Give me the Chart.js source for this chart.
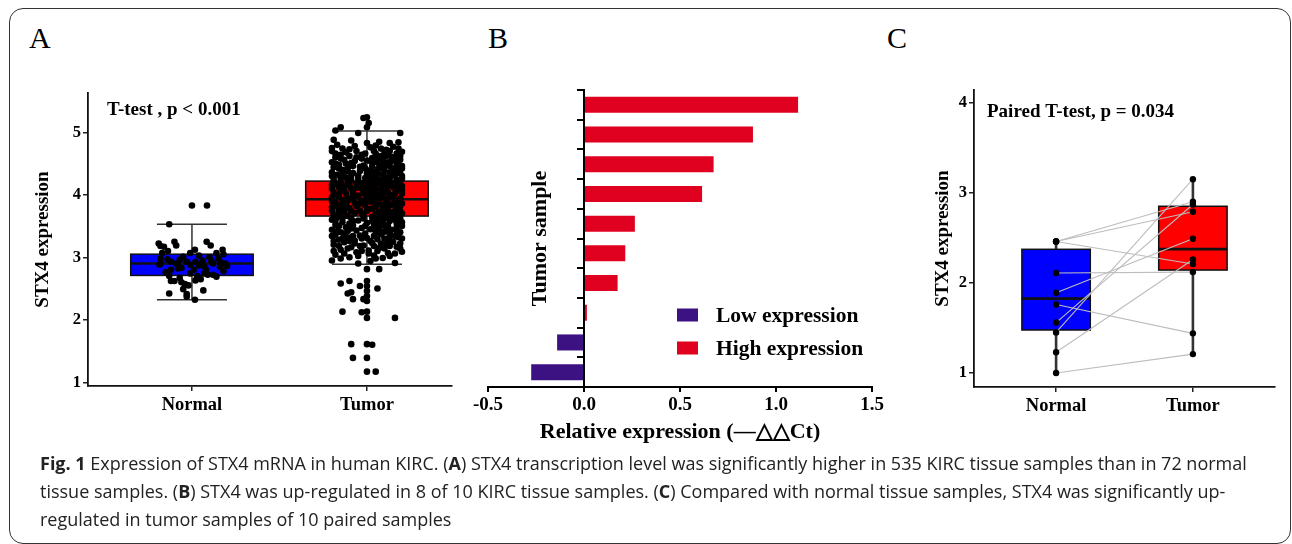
<!DOCTYPE html>
<html>
<head>
<meta charset="utf-8">
<script src="https://cdn.jsdelivr.net/npm/chart.js@4.4.1/dist/chart.umd.min.js"></script>
<style>
  body { margin: 0; width: 1292px; height: 544px; overflow: hidden; position: relative; background: #fff; }
  .frame { position: absolute; left: 9px; top: 8px; width: 1282px; height: 536px; border: 1.5px solid #333; border-radius: 14px; box-sizing: border-box; }
  .panel-label { position: absolute; font-family: 'Liberation Serif', 'Times New Roman', serif; font-size: 30px; line-height: 30px; color: #000; }
  canvas { position: absolute; }
  #caption { position: absolute; left: 40px; top: 449px; font-family: 'Open Sans', sans-serif; font-size: 18px; line-height: 28px; color: #222; white-space: nowrap; }
</style>
</head>
<body>
<div class="frame"></div>
<div class="panel-label" style="left:29px;top:23px">A</div>
<div class="panel-label" style="left:488px;top:23px">B</div>
<div class="panel-label" style="left:887px;top:23px">C</div>

<canvas id="chart-a" width="430" height="370" style="left:30px;top:60px"></canvas>
<canvas id="chart-b" width="420" height="390" style="left:470px;top:60px"></canvas>
<canvas id="chart-c" width="360" height="370" style="left:925px;top:60px"></canvas>

<div id="caption"><b>Fig. 1</b> Expression of STX4 mRNA in human KIRC. (<b>A</b>) STX4 transcription level was significantly higher in 535 KIRC tissue samples than in 72 normal<br>tissue samples. (<b>B</b>) STX4 was up-regulated in 8 of 10 KIRC tissue samples. (<b>C</b>) Compared with normal tissue samples, STX4 was significantly up-<br>regulated in tumor samples of 10 paired samples</div>

<script>
// Fig.1 STX4 expression - A: TCGA boxplot, B: qPCR per sample, C: paired boxplot

// ---- A : TCGA ----
const aCategories = ['Normal', 'Tumor'];
const aYTicks = [1, 2, 3, 4, 5];
const aQ1 = [2.71, 3.66];
const aMedian = [2.90, 3.93];
const aQ3 = [3.05, 4.22];
const aWhiskerLow = [2.32, 2.89];
const aWhiskerHigh = [3.53, 5.02];

// [jitter offset, value]
const normalPoints = [
  [-0.13, 3.53], [0.00, 3.83], [0.086, 3.83],
  [-0.19, 3.22], [-0.18, 3.18], [-0.16, 3.17], [-0.10, 3.25], [-0.09, 3.19], [-0.137, 3.10], [-0.17, 3.07],
  [0.084, 3.25], [0.107, 3.19], [0.017, 3.12], [-0.01, 3.07], [0.14, 3.07], [0.175, 3.12], [0.18, 3.05],
  [-0.18, 2.98], [-0.18, 2.91], [-0.185, 2.88], [-0.14, 2.97], [-0.12, 2.93], [-0.07, 2.96], [-0.03, 2.93], [-0.01, 2.88],
  [0.02, 2.93], [0.04, 2.87], [0.07, 2.86], [0.08, 2.80], [0.11, 2.94], [0.12, 2.90], [0.15, 2.98], [0.16, 2.93],
  [0.19, 2.90], [0.20, 2.86], [0.16, 2.85], [-0.12, 2.80], [-0.08, 2.82], [-0.13, 2.70], [-0.12, 2.62], [-0.10, 2.62],
  [-0.07, 2.67], [-0.06, 2.60], [-0.04, 2.57], [-0.05, 2.49], [-0.03, 2.41], [-0.03, 2.37], [0.02, 2.63], [0.05, 2.65],
  [0.017, 2.32], [0.065, 2.47], [-0.13, 2.42], [0.12, 2.72], [0.14, 2.69], [0.07, 2.74], [0.09, 2.72], [-0.01, 2.74],
  [0.01, 2.80], [-0.08, 2.87], [-0.06, 2.83], [0.04, 3.03], [-0.05, 3.01], [0.10, 3.00], [-0.15, 2.76], [0.18, 2.78],
  [0.06, 2.95], [-0.09, 2.90], [0.03, 2.70], [-0.02, 2.55]
];

const tumorPoints = [
  // above the upper whisker / top of cloud
  [0.00, 5.24], [-0.02, 5.23], [0.01, 5.15], [0.00, 5.08], [-0.15, 5.08], [-0.18, 5.03], [-0.05, 4.99], [0.19, 4.99],
  [0.07, 4.85], [0.13, 4.83], [0.18, 4.84], [-0.19, 4.88], [-0.09, 4.87], [0.00, 4.83], [-0.20, 4.75], [0.11, 4.72],
  [0.04, 4.70], [-0.12, 4.68], [0.17, 4.66], [-0.03, 4.64], [0.08, 4.62],
  [-0.17, 4.80], [-0.07, 4.78], [0.05, 4.79], [0.15, 4.77], [-0.20, 4.70], [-0.10, 4.73], [0.10, 4.66], [-0.15, 4.64],
  [0.20, 4.69], [0.02, 4.76],
  [-0.14, 4.74], [0.08, 4.74], [0.18, 4.74], [-0.06, 4.70], [0.13, 4.70], [-0.18, 4.66], [-0.01, 4.66], [0.05, 4.66],
  [-0.10, 4.62], [0.11, 4.62], [0.19, 4.62],
  // dense part
  [-0.18, 4.60], [-0.06, 4.60], [0.03, 4.59], [0.14, 4.61],
  [-0.15, 4.58], [-0.03, 4.58], [0.06, 4.58], [0.16, 4.58],
  [-0.13, 4.56], [0.00, 4.55], [0.09, 4.57], [0.19, 4.56],
  [-0.07, 4.54], [0.02, 4.54], [0.14, 4.54],
  [-0.20, 4.52], [-0.09, 4.51], [0.05, 4.53], [0.12, 4.52], [0.17, 4.50],
  [-0.18, 4.50], [-0.12, 4.50], [0.10, 4.50],
  [-0.16, 4.48], [-0.02, 4.47], [0.07, 4.49], [0.20, 4.46],
  [-0.08, 4.46], [0.03, 4.46], [0.13, 4.46], [0.17, 4.46],
  [-0.19, 4.44], [-0.11, 4.43], [-0.04, 4.45], [0.10, 4.44], [0.15, 4.42],
  [-0.16, 4.42], [-0.01, 4.42], [0.07, 4.42], [0.20, 4.42],
  [-0.14, 4.40], [0.01, 4.39], [0.06, 4.41], [0.18, 4.40],
  [-0.11, 4.38], [-0.04, 4.38], [0.10, 4.38], [0.16, 4.38],
  [-0.20, 4.36], [-0.08, 4.35], [0.03, 4.37], [0.13, 4.36],
  [-0.14, 4.34], [0.00, 4.34], [0.06, 4.34], [0.19, 4.34],
  [-0.17, 4.32], [-0.05, 4.31], [0.09, 4.33], [0.16, 4.32], [0.20, 4.30],
  [-0.20, 4.30], [-0.09, 4.30], [0.02, 4.30], [0.14, 4.30],
  [-0.12, 4.28], [-0.01, 4.27], [0.04, 4.29], [0.11, 4.28],
  [-0.15, 4.26], [-0.05, 4.26], [0.10, 4.26], [0.20, 4.26],
  [-0.19, 4.24], [-0.09, 4.23], [0.07, 4.25], [0.17, 4.24],
  [-0.11, 4.22], [0.00, 4.22], [0.05, 4.22], [0.12, 4.22],
  [-0.15, 4.20], [-0.03, 4.19], [0.02, 4.21], [0.14, 4.20], [0.19, 4.18],
  [-0.18, 4.18], [-0.06, 4.18], [0.08, 4.18], [0.16, 4.18],
  [-0.20, 4.16], [-0.10, 4.15], [0.05, 4.17], [0.10, 4.16],
  [-0.13, 4.14], [0.03, 4.14], [0.12, 4.14], [0.20, 4.14],
  [-0.16, 4.12], [-0.06, 4.11], [0.00, 4.13], [0.15, 4.12], [0.18, 4.10],
  [-0.20, 4.10], [-0.09, 4.10], [-0.03, 4.10], [0.05, 4.10],
  [-0.13, 4.08], [-0.02, 4.07], [0.08, 4.09], [0.20, 4.08],
  [-0.15, 4.06], [0.01, 4.06], [0.11, 4.06], [0.17, 4.06],
  [-0.19, 4.04], [-0.08, 4.03], [0.03, 4.05], [0.12, 4.04], [0.16, 4.02],
  [-0.12, 4.02], [-0.02, 4.02], [0.09, 4.02], [0.20, 4.02],
  [-0.17, 4.00], [-0.05, 3.99], [0.06, 4.01], [0.13, 4.00],
  [-0.16, 3.98], [-0.07, 3.98], [0.03, 3.98], [0.15, 3.98],
  [-0.20, 3.96], [-0.11, 3.95], [0.00, 3.97], [0.09, 3.96], [0.19, 3.94],
  [-0.09, 3.94], [0.07, 3.94], [0.12, 3.94],
  [-0.14, 3.92], [-0.03, 3.91], [0.04, 3.93], [0.16, 3.92],
  [-0.20, 3.90], [-0.11, 3.90], [0.00, 3.90], [0.17, 3.90],
  [-0.18, 3.88], [-0.07, 3.87], [0.02, 3.89], [0.11, 3.88], [0.20, 3.86],
  [-0.12, 3.86], [-0.04, 3.86], [0.05, 3.86], [0.15, 3.86],
  [-0.15, 3.84], [-0.01, 3.83], [0.08, 3.85], [0.14, 3.84],
  [-0.17, 3.82], [-0.06, 3.82], [0.11, 3.82], [0.19, 3.82],
  [-0.20, 3.80], [-0.10, 3.79], [0.05, 3.81], [0.17, 3.80],
  [-0.13, 3.78], [0.03, 3.78], [0.09, 3.78],
  [-0.16, 3.76], [-0.04, 3.75], [0.01, 3.77], [0.12, 3.76], [0.19, 3.74],
  [-0.20, 3.74], [-0.09, 3.74], [0.00, 3.74], [0.16, 3.74],
  [-0.13, 3.72], [-0.07, 3.71], [0.07, 3.73], [0.15, 3.72],
  [-0.16, 3.70], [-0.03, 3.70], [0.05, 3.70], [0.12, 3.70], [0.20, 3.70],
  [-0.19, 3.68], [-0.02, 3.67], [0.10, 3.69], [0.18, 3.68],
  [-0.11, 3.66], [0.07, 3.66], [0.16, 3.66],
  [-0.17, 3.64], [-0.09, 3.63], [0.03, 3.65], [0.13, 3.64],
  [-0.14, 3.62], [-0.02, 3.62], [0.10, 3.62], [0.19, 3.62],
  [-0.20, 3.60], [-0.05, 3.59], [0.06, 3.61], [0.16, 3.60],
  [-0.18, 3.58], [-0.08, 3.58], [0.03, 3.58], [0.13, 3.58],
  [-0.14, 3.56], [0.00, 3.55], [0.09, 3.57], [0.20, 3.56],
  [-0.10, 3.54], [0.06, 3.54], [0.17, 3.54],
  [-0.18, 3.52], [-0.08, 3.51], [0.04, 3.53], [0.12, 3.52],
  [-0.16, 3.50], [-0.01, 3.50], [0.10, 3.50], [0.20, 3.50],
  [-0.12, 3.48], [-0.03, 3.47], [0.07, 3.49], [0.17, 3.48],
  [-0.09, 3.46], [0.04, 3.46], [0.12, 3.46],
  [-0.20, 3.44], [-0.06, 3.43], [0.02, 3.45], [0.14, 3.44],
  [-0.17, 3.42], [-0.11, 3.42], [0.07, 3.42], [0.17, 3.42],
  [-0.15, 3.40], [0.05, 3.39], [0.10, 3.41], [0.19, 3.40],
  [-0.13, 3.38], [-0.01, 3.38], [0.13, 3.38],
  [-0.18, 3.36], [-0.04, 3.35], [0.08, 3.37],
  [-0.20, 3.34], [-0.08, 3.34], [0.04, 3.34], [0.16, 3.34],
  [-0.11, 3.32], [0.00, 3.31], [0.13, 3.33], [0.18, 3.32],
  [-0.14, 3.30], [-0.03, 3.30], [0.10, 3.30], [0.20, 3.30],
  [-0.16, 3.28], [-0.07, 3.27], [0.06, 3.29],
  [-0.19, 3.26], [-0.10, 3.26], [0.02, 3.26], [0.12, 3.26],
  [-0.13, 3.24], [0.03, 3.23], [0.15, 3.25],
  [-0.07, 3.22], [0.08, 3.22], [0.19, 3.22],
  [-0.19, 3.20], [-0.02, 3.19], [0.11, 3.21],
  [-0.16, 3.18], [-0.04, 3.18], [0.04, 3.18], [0.13, 3.18],
  [-0.09, 3.16], [0.07, 3.15], [0.17, 3.17],
  [-0.11, 3.14], [0.10, 3.14], [0.19, 3.14],
  [-0.15, 3.12], [0.01, 3.11],
  [-0.19, 3.10], [-0.03, 3.10], [0.06, 3.10],
  [-0.06, 3.08], [0.12, 3.07], [0.20, 3.09],
  [-0.13, 3.06], [0.01, 3.06], [0.16, 3.06],
  [-0.18, 3.04], [0.04, 3.03],
  [-0.05, 3.02], [0.13, 3.02],
  [-0.10, 3.00], [0.09, 2.99],
  [-0.15, 2.98], [0.05, 2.98],
  [-0.20, 2.95], [0.02, 2.94],
  [-0.05, 2.90], [0.16, 2.91],
  // below the lower whisker
  [0.00, 2.81], [0.07, 2.81], [-0.15, 2.58], [-0.10, 2.62], [0.00, 2.62], [0.00, 2.54], [0.00, 2.46], [0.00, 2.38],
  [-0.04, 2.54], [0.06, 2.50], [-0.09, 2.44], [-0.11, 2.42], [-0.08, 2.33], [-0.02, 2.33], [0.00, 2.30],
  [-0.14, 2.13], [-0.03, 2.12], [0.00, 2.13], [0.00, 2.03], [0.16, 2.03],
  [-0.09, 1.61], [0.00, 1.61], [0.03, 1.60], [-0.08, 1.39], [0.00, 1.39], [0.00, 1.17], [0.05, 1.17]
];

// ---- B : qPCR ----
const bSamples = ['T1', 'T2', 'T3', 'T4', 'T5', 'T6', 'T7', 'T8', 'T9', 'T10'];
const bValues = [1.115, 0.88, 0.675, 0.615, 0.265, 0.215, 0.175, 0.015, -0.14, -0.275];
const bXTicks = [-0.5, 0, 0.5, 1, 1.5];

// ---- C : paired samples ----
const cCategories = ['Normal', 'Tumor'];
const cYTicks = [1, 2, 3, 4];
const cNormal = [2.46, 2.46, 2.46, 2.11, 1.89, 1.76, 1.56, 1.45, 1.23, 1.00];
const cTumor = [2.90, 2.79, 2.21, 2.12, 2.49, 1.44, 2.87, 3.15, 2.26, 1.21];

const SERIF = "'Liberation Serif', 'Times New Roman', serif";
const bold = (size) => ({ family: SERIF, size: size, weight: 'bold' });
Chart.defaults.color = '#000';
Chart.defaults.animation = false;

// quantile (type 7, same as R default)
function quantile(arr, p) {
  const s = [...arr].sort((a, b) => a - b);
  const h = (s.length - 1) * p;
  const lo = Math.floor(h);
  return s[lo] + (h - lo) * ((s[Math.min(lo + 1, s.length - 1)]) - s[lo]);
}

/**
 * boxplot drawing (boxes, whiskers, median) behind the points
 */
function boxPlugin(boxes, style) {
  return {
    id: 'boxes',
    beforeDatasetsDraw(chart) {
      const { ctx, scales: { x, y } } = chart;
      ctx.save();
      boxes.forEach(b => {
        const cx = x.getPixelForValue(b.pos);
        const left = x.getPixelForValue(b.pos - style.half);
        const right = x.getPixelForValue(b.pos + style.half);
        const top = y.getPixelForValue(b.q3);
        const bottom = y.getPixelForValue(b.q1);

        ctx.strokeStyle = style.whiskerColor;
        ctx.lineWidth = style.whiskerWidth;
        ctx.beginPath();
        ctx.moveTo(cx, y.getPixelForValue(b.lo));
        ctx.lineTo(cx, y.getPixelForValue(b.hi));
        ctx.stroke();
        if (style.cap) {
          const cl = x.getPixelForValue(b.pos - style.cap);
          const cr = x.getPixelForValue(b.pos + style.cap);
          [b.lo, b.hi].forEach(v => {
            const py = y.getPixelForValue(v);
            ctx.beginPath();
            ctx.moveTo(cl, py);
            ctx.lineTo(cr, py);
            ctx.stroke();
          });
        }

        ctx.fillStyle = b.color;
        ctx.fillRect(left, top, right - left, bottom - top);
        ctx.strokeStyle = '#111';
        ctx.lineWidth = 1.5;
        ctx.strokeRect(left, top, right - left, bottom - top);

        const my = y.getPixelForValue(b.med);
        ctx.lineWidth = 2.6;
        ctx.beginPath();
        ctx.moveTo(left, my);
        ctx.lineTo(right, my);
        ctx.stroke();
      });
      ctx.restore();
    }
  };
}

/**
 * free text relative to the chart area
 */
function textPlugin(items) {
  return {
    id: 'notes',
    afterDraw(chart) {
      const { ctx, chartArea } = chart;
      ctx.save();
      ctx.fillStyle = '#000';
      items.forEach(it => {
        ctx.font = `bold ${it.size}px ${SERIF}`;
        ctx.textBaseline = 'middle';
        ctx.textAlign = it.align || 'left';
        const px = chartArea.left + it.dx;
        const py = it.dy === 'middle' ? (chartArea.top + chartArea.bottom) / 2 : chartArea.top + it.dy;
        ctx.translate(px, py);
        if (it.rotate) ctx.rotate(it.rotate);
        ctx.fillText(it.text, 0, 0);
        ctx.setTransform(1, 0, 0, 1, 0, 0);
      });
      ctx.restore();
    }
  };
}

function axisBase(extra) {
  return Object.assign({
    grid: { drawOnChartArea: false, drawTicks: true, tickLength: 5, color: '#222', lineWidth: 1.5 },
    border: { display: true, color: '#111', width: 1.8 }
  }, extra);
}

/**
 * A : boxplot with jittered points
 */
function initChartA() {
  const ctx = document.getElementById('chart-a').getContext('2d');
  const colors = ['#0000ff', '#ff0000'];
  const boxes = aCategories.map((c, i) => ({
    pos: i + 1, q1: aQ1[i], med: aMedian[i], q3: aQ3[i], lo: aWhiskerLow[i], hi: aWhiskerHigh[i], color: colors[i]
  }));

  new Chart(ctx, {
    type: 'scatter',
    data: {
      datasets: [
        { label: 'Normal', data: normalPoints.map(p => ({ x: 1 + p[0], y: p[1] })) },
        { label: 'Tumor', data: tumorPoints.map(p => ({ x: 2 + p[0], y: p[1] })) }
      ]
    },
    options: {
      responsive: false,
      layout: { padding: { top: 33, right: 8, left: 0, bottom: 0 } },
      elements: { point: { radius: 3.3, backgroundColor: '#000', borderWidth: 0 } },
      plugins: { legend: { display: false }, tooltip: { enabled: false } },
      scales: {
        x: axisBase({
          type: 'linear', min: 0.406, max: 2.486,
          afterBuildTicks: s => { s.ticks = [{ value: 1 }, { value: 2 }]; },
          afterFit: s => { s.height = 44; },
          ticks: { callback: v => aCategories[Math.round(v) - 1], font: bold(18.5), padding: 3, maxRotation: 0, autoSkip: false }
        }),
        y: axisBase({
          min: 0.94, max: 5.63,
          afterBuildTicks: s => { s.ticks = aYTicks.map(v => ({ value: v })); },
          afterFit: s => { s.width = 58; },
          ticks: { font: bold(16.5), padding: 2 },
          title: { display: true, text: 'STX4 expression', font: bold(19), padding: { top: 2, bottom: 0 } }
        })
      }
    },
    plugins: [
      boxPlugin(boxes, { half: 0.35, cap: 0.2, whiskerColor: '#333', whiskerWidth: 1.5 }),
      textPlugin([{ text: 'T-test , p < 0.001', size: 19, dx: 19, dy: 17 }])
    ]
  });
}

/**
 * B : relative expression per tumor sample
 */
function initChartB() {
  const ctx = document.getElementById('chart-b').getContext('2d');

  // legend drawn inside the plot area
  const legendPlugin = {
    id: 'innerLegend',
    afterDraw(chart) {
      const { ctx, chartArea } = chart;
      ctx.save();
      chart.data.datasets.forEach((ds, i) => {
        const x = chartArea.left + 189;
        const y = chartArea.top + 225 + i * 33;
        ctx.fillStyle = ds.backgroundColor;
        ctx.fillRect(x, y - 6.5, 21, 13);
        ctx.fillStyle = '#000';
        ctx.font = `bold 21.5px ${SERIF}`;
        ctx.textBaseline = 'middle';
        ctx.fillText(ds.label, x + 39, y + 1);
      });
      ctx.restore();
    }
  };

  new Chart(ctx, {
    type: 'bar',
    data: {
      labels: bSamples,
      datasets: [
        { label: 'Low expression', data: bValues.map(v => v < 0 ? v : null), backgroundColor: '#3c1182' },
        { label: 'High expression', data: bValues.map(v => v >= 0 ? v : null), backgroundColor: '#e0001f' }
      ]
    },
    options: {
      responsive: false,
      indexAxis: 'y',
      layout: { padding: { top: 30, right: 18, left: 18, bottom: 0 } },
      datasets: { bar: { grouped: false, barPercentage: 0.54, categoryPercentage: 1 } },
      plugins: { legend: { display: false }, tooltip: { enabled: false } },
      scales: {
        x: {
          min: -0.5, max: 1.5,
          afterBuildTicks: s => { s.ticks = bXTicks.map(v => ({ value: v })); },
          afterFit: s => { s.height = 63; },
          grid: { drawOnChartArea: false, tickLength: 5, color: '#000', lineWidth: 2 },
          border: { color: '#000', width: 2 },
          ticks: { callback: v => v.toFixed(1), font: bold(19), padding: 2, maxRotation: 0 },
          title: { display: true, text: 'Relative expression (—△△Ct)', font: bold(22), padding: { top: 0, bottom: 4 } }
        },
        y: {
          position: { x: 0 },
          grid: { drawOnChartArea: false, tickLength: 6, color: '#000', lineWidth: 2 },
          border: { color: '#000', width: 2 },
          ticks: { display: false }
        }
      }
    },
    plugins: [
      legendPlugin,
      textPlugin([{ text: 'Tumor sample', size: 22, dx: 52, dy: 'middle', rotate: -Math.PI / 2, align: 'center' }])
    ]
  });
}

/**
 * C : paired boxplot with connecting lines
 */
function initChartC() {
  const ctx = document.getElementById('chart-c').getContext('2d');
  const colors = ['#0000ff', '#ff0000'];
  const boxes = [cNormal, cTumor].map((vals, i) => ({
    pos: i + 1,
    q1: quantile(vals, 0.25), med: quantile(vals, 0.5), q3: quantile(vals, 0.75),
    lo: Math.min(...vals), hi: Math.max(...vals), color: colors[i]
  }));

  const pairLines = cNormal.map((v, i) => ({
    label: 'pair ' + (i + 1),
    data: [{ x: 1, y: v }, { x: 2, y: cTumor[i] }],
    showLine: true, borderColor: '#bdbdbd', borderWidth: 1.1, pointRadius: 0, order: 2
  }));

  new Chart(ctx, {
    type: 'scatter',
    data: {
      datasets: [
        { label: 'Normal', data: cNormal.map(v => ({ x: 1, y: v })), order: 1 },
        { label: 'Tumor', data: cTumor.map(v => ({ x: 2, y: v })), order: 1 },
        ...pairLines
      ]
    },
    options: {
      responsive: false,
      layout: { padding: { top: 30, right: 10, left: 0, bottom: 0 } },
      elements: { point: { radius: 3.2, backgroundColor: '#000', borderWidth: 0 } },
      plugins: { legend: { display: false }, tooltip: { enabled: false } },
      scales: {
        x: axisBase({
          type: 'linear', min: 0.4, max: 2.6,
          afterBuildTicks: s => { s.ticks = [{ value: 1 }, { value: 2 }]; },
          afterFit: s => { s.height = 43; },
          ticks: { callback: v => cCategories[Math.round(v) - 1], font: bold(18.5), padding: 3, maxRotation: 0, autoSkip: false }
        }),
        y: axisBase({
          min: 0.845, max: 4.14,
          afterBuildTicks: s => { s.ticks = cYTicks.map(v => ({ value: v })); },
          afterFit: s => { s.width = 49; },
          ticks: { font: bold(16.5), padding: 2 },
          title: { display: true, text: 'STX4 expression', font: bold(19), padding: { top: 7, bottom: 0 } }
        })
      }
    },
    plugins: [
      boxPlugin(boxes, { half: 0.25, cap: 0, whiskerColor: '#333', whiskerWidth: 2.6 }),
      textPlugin([{ text: 'Paired T-test, p = 0.034', size: 19, dx: 13, dy: 22 }])
    ]
  });
}

initChartA();
initChartB();
initChartC();
</script>
</body>
</html>
